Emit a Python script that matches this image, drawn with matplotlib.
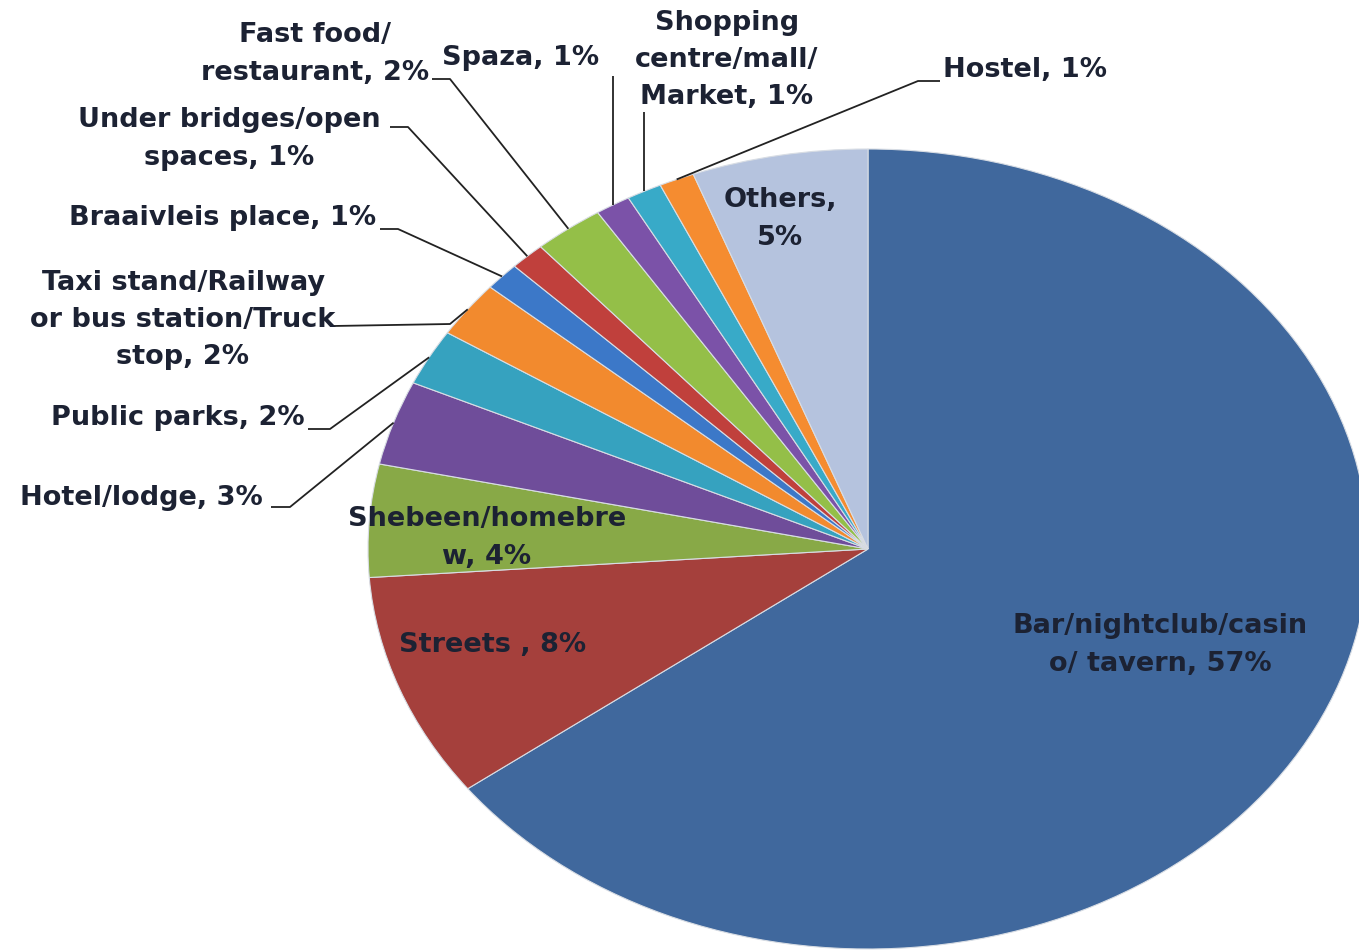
import numpy as np
import matplotlib
matplotlib.use("Agg")
import matplotlib.pyplot as plt

# ---- data ----
categories = ["Bar/nightclub/casin\no/ tavern", "Streets ", "Shebeen/homebre\nw", "Hotel/lodge",
              "Public parks", "Taxi stand/Railway\nor bus station/Truck\nstop", "Braaivleis place",
              "Under bridges/open\nspaces", "Fast food/\nrestaurant", "Spaza",
              "Shopping\ncentre/mall/\nMarket", "Hostel", "Others"]
values = [57, 8, 4, 3, 2, 2, 1, 1, 2, 1, 1, 1, 5]
colors = ["#40689d", "#a5403c", "#88a947", "#6f4d9a", "#36a2bf", "#f28a2e",
          "#3c78c8", "#c0403c", "#94bf48", "#7b52a8", "#38aac8", "#f58c30", "#b5c3de"]

W, H = 1359, 953
CX, CY, RX, RY = 868, 550, 500, 400

fig = plt.figure(figsize=(W / 100, H / 100), dpi=100)
ax = fig.add_axes([(CX - RX) / W, (H - CY - RY) / H, 2 * RX / W, 2 * RY / H])
wedges, _ = ax.pie(values, colors=colors, startangle=90, counterclock=False, radius=1,
                   wedgeprops=dict(edgecolor="#d8dde4", linewidth=0.8))
ax.set_xlim(-1, 1)
ax.set_ylim(-1, 1)
ax.set_aspect("auto")
ax.axis("off")

def P(px, py):
    return ((px - CX) / RX, (CY - py) / RY)

def edge(i):
    w = wedges[i]
    t = np.deg2rad((w.theta1 + w.theta2) / 2)
    return (np.cos(t), np.sin(t))

FS = 19.5
tc = "#1c2233"
kw = dict(fontsize=FS, fontweight="bold", color=tc, ha="center", va="center",
          linespacing=1.56, family="DejaVu Sans")

def lab(i, px, py, sep=", "):
    txt = categories[i] + sep + f"{values[i]}%"
    ax.text(*P(px, py), txt, clip_on=False, **kw)

def leader(i, pts):
    xs = [P(*p)[0] for p in pts]
    ys = [P(*p)[1] for p in pts]
    ex, ey = edge(i)
    xs.append(ex); ys.append(ey)
    ax.plot(xs, ys, color="#222222", lw=1.3, clip_on=False, solid_capstyle="butt")

# inside labels
lab(0, 1160, 645)
lab(1, 493, 645)
lab(2, 487, 538)
lab(12, 780, 219, sep=",\n")

# outside labels
lab(3, 141, 498)
lab(4, 178, 418)
lab(5, 183, 320)
lab(6, 223, 218)
lab(7, 229, 139)
lab(8, 315, 54)
lab(9, 521, 58)
lab(10, 727, 60)
lab(11, 1025, 70)

leader(3, [(271, 508), (290, 508)])
leader(4, [(308, 430), (330, 430)])
leader(5, [(333, 327), (450, 325)])
leader(6, [(380, 230), (398, 230)])
leader(7, [(390, 128), (408, 128)])
leader(8, [(432, 80), (450, 80)])
ex, ey = edge(9)
leader(9, [(CX + ex * RX, 77)])
ex, ey = edge(10)
leader(10, [(CX + ex * RX, 113)])
leader(11, [(940, 82), (918, 82)])

fig.savefig("out.png", dpi=100)
